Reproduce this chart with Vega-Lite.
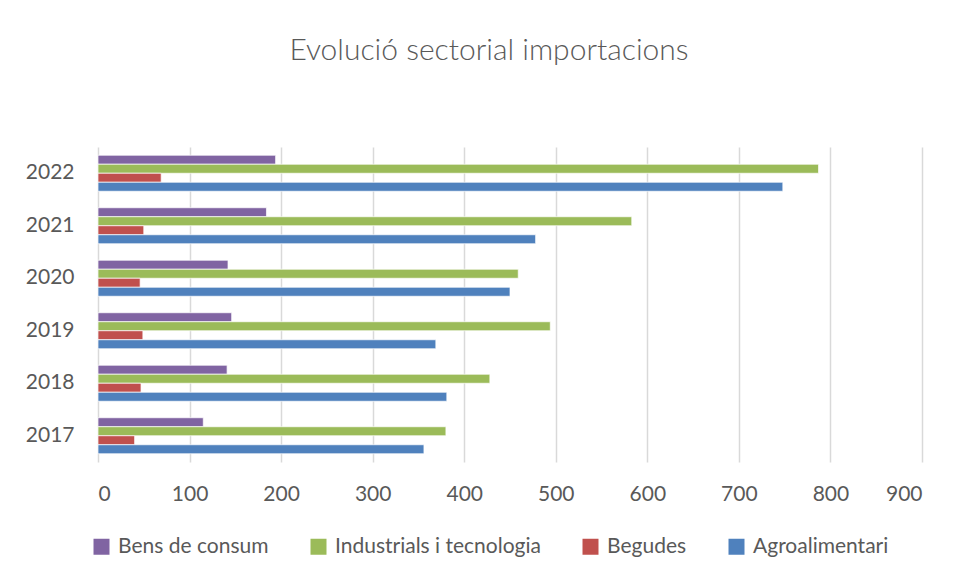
{
  "$schema": "https://vega.github.io/schema/vega-lite/v6.json",
  "autosize": {"type": "none"},
  "width": 824,
  "height": 315,
  "padding": {"left": 98, "top": 147, "right": 35, "bottom": 117},
  "background": "white",
  "title": {
    "text": "Evolució sectorial importacions",
    "font": "Lato",
    "fontSize": 30,
    "fontWeight": 300,
    "color": "#595959",
    "anchor": "middle",
    "frame": "group",
    "dx": -21,
    "offset": 81
  },
  "config": {
    "view": {"stroke": null},
    "font": "Lato"
  },
  "data": {
    "values": [
      {"year": "2017", "sector": "Bens de consum", "value": 115},
      {"year": "2017", "sector": "Industrials i tecnologia", "value": 380},
      {"year": "2017", "sector": "Begudes", "value": 40},
      {"year": "2017", "sector": "Agroalimentari", "value": 356},
      {"year": "2018", "sector": "Bens de consum", "value": 141},
      {"year": "2018", "sector": "Industrials i tecnologia", "value": 428},
      {"year": "2018", "sector": "Begudes", "value": 47},
      {"year": "2018", "sector": "Agroalimentari", "value": 381},
      {"year": "2019", "sector": "Bens de consum", "value": 146},
      {"year": "2019", "sector": "Industrials i tecnologia", "value": 494},
      {"year": "2019", "sector": "Begudes", "value": 49},
      {"year": "2019", "sector": "Agroalimentari", "value": 369},
      {"year": "2020", "sector": "Bens de consum", "value": 142},
      {"year": "2020", "sector": "Industrials i tecnologia", "value": 459},
      {"year": "2020", "sector": "Begudes", "value": 46},
      {"year": "2020", "sector": "Agroalimentari", "value": 450},
      {"year": "2021", "sector": "Bens de consum", "value": 184},
      {"year": "2021", "sector": "Industrials i tecnologia", "value": 583},
      {"year": "2021", "sector": "Begudes", "value": 50},
      {"year": "2021", "sector": "Agroalimentari", "value": 478},
      {"year": "2022", "sector": "Bens de consum", "value": 194},
      {"year": "2022", "sector": "Industrials i tecnologia", "value": 787},
      {"year": "2022", "sector": "Begudes", "value": 69},
      {"year": "2022", "sector": "Agroalimentari", "value": 748}
    ]
  },
  "mark": {"type": "bar", "stroke": "white", "strokeWidth": 1, "strokeOpacity": 0.7},
  "encoding": {
    "y": {
      "field": "year",
      "type": "nominal",
      "sort": ["2022", "2021", "2020", "2019", "2018", "2017"],
      "scale": {"paddingInner": 0.314, "paddingOuter": 0.157},
      "axis": {
        "title": null,
        "domain": false,
        "ticks": false,
        "grid": false,
        "labelPadding": 24,
        "labelFontSize": 21,
        "labelColor": "#595959",
        "labelFont": "Lato"
      }
    },
    "yOffset": {
      "field": "sector",
      "type": "nominal",
      "sort": ["Bens de consum", "Industrials i tecnologia", "Begudes", "Agroalimentari"],
      "scale": {"paddingInner": 0, "paddingOuter": 0}
    },
    "x": {
      "field": "value",
      "type": "quantitative",
      "scale": {"domain": [0, 900], "nice": false},
      "axis": {
        "title": null,
        "values": [0, 100, 200, 300, 400, 500, 600, 700, 800, 900],
        "domain": false,
        "ticks": false,
        "grid": true,
        "gridColor": "#d9d9d9",
        "gridWidth": 1.5,
        "labelPadding": 21,
        "labelFontSize": 21,
        "labelColor": "#595959",
        "labelFont": "Lato"
      }
    },
    "color": {
      "field": "sector",
      "type": "nominal",
      "scale": {
        "domain": ["Bens de consum", "Industrials i tecnologia", "Begudes", "Agroalimentari"],
        "range": ["#8064A2", "#9BBB59", "#C0504D", "#4F81BD"]
      },
      "legend": {
        "title": null,
        "orient": "none",
        "direction": "horizontal",
        "legendX": -7,
        "legendY": 389,
        "symbolType": "square",
        "symbolSize": 256,
        "symbolStrokeWidth": 0,
        "labelFontSize": 21,
        "labelLimit": 400,
        "labelColor": "#595959",
        "labelFont": "Lato",
        "labelOffset": 6,
        "columnPadding": 39
      }
    }
  }
}
